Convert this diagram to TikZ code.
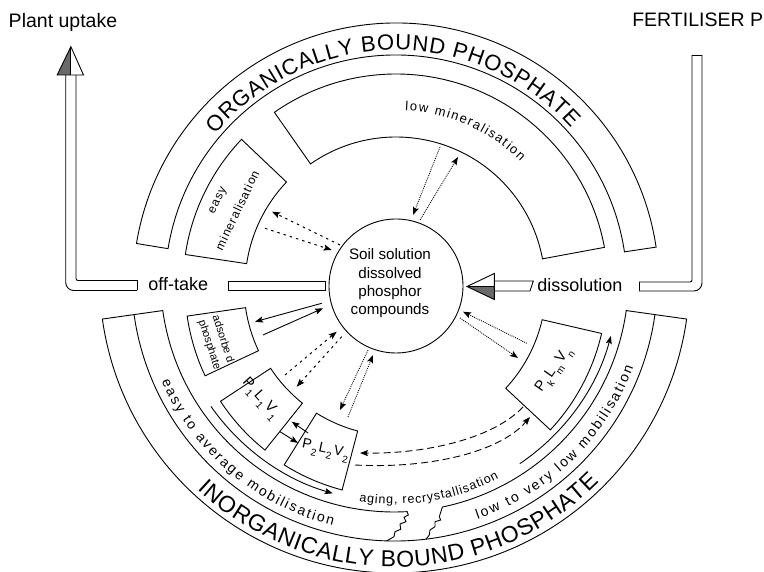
\documentclass[tikz,border=0pt]{standalone}
\usepackage{fontspec}
\setmainfont{Liberation Sans}
\usetikzlibrary{calc,decorations.text,arrows.meta}
\newcommand{\annsector}[5]{%
  \draw ($(#1)+(#4:#3)$) arc[start angle=#4, end angle=#5, radius=#3]
     -- ($(#1)+(#5:#2)$) arc[start angle=#5, end angle=#4, radius=#2] -- cycle;}
\newcommand{\fsz}[1]{\fontsize{#1}{#1}\selectfont}
\newcommand{\sbs}[1]{\kern0.5pt\raisebox{-0.4em}{\fontsize{10}{10}\selectfont #1}\kern1.5pt}
\definecolor{headgray}{RGB}{105,105,105}
\begin{document}
\begin{tikzpicture}[x=1pt,y=1pt,line width=0.9pt,
  tip/.style={-{Stealth[length=8pt,width=6pt,inset=1.5pt]}},
  solidarr/.style={tip, line width=0.9pt},
  loosedots/.style={tip, line width=1pt, dash pattern=on 2.5pt off 4pt},
  finedots/.style={tip, line width=0.9pt, dash pattern=on 0.9pt off 1.1pt},
  longdash/.style={tip, line width=0.9pt, dash pattern=on 7pt off 4pt},
  lbl/.style={inner sep=0pt, font=\fsz{19.5}},
  boxtext/.style={inner sep=0pt, align=center}]
\fill[white] (0,0) rectangle (764,572);
\useasboundingbox (0,0) rectangle (764,572);

\coordinate (C) at (396,286);
\coordinate (Ci) at (394.5,294);

% soil solution
\node[draw, circle, minimum size=134pt, inner sep=0pt] (sol) at (C) {};
\node[inner sep=0pt, align=center, font=\fontsize{15.2}{18.3}\selectfont] (soltext) at (390,288.5)
  {Soil solution\\dissolved\\phosphor\\compounds};

% organic bands
\annsector{C}{231}{263}{8.5}{170.7}
\annsector{C}{151}{213}{136.5}{171.5}
\annsector{C}{149}{212}{10.5}{125}

% inorganic pools
\annsector{C}{152}{211}{188.2}{205.2}
\annsector{C}{150}{210}{213.3}{231.4}
\annsector{C}{150}{211}{238}{255.2}
\annsector{C}{150}{211}{317}{347}

% inorganic bands
\annsector{Ci}{263}{295}{188}{352}
\draw ($(Ci)+(188:263)$) -- ($(Ci)+(188:234)$) arc[start angle=188, end angle=273.1, radius=234]
  -- (408.3,57) -- (404,54.7) -- (406,50.3) -- (400,48) -- (400.7,42.7) -- (395,40.3) -- (394,35.3) -- (386.7,31.1);
\draw (426,32.7) -- (429.3,37) -- (430,42) -- (435,45.3) -- (435,50.3) -- (440.7,52) -- (439.3,55.3)
  -- ($(Ci)+(281.8:234)$) arc[start angle=281.8, end angle=352, radius=234] -- ($(Ci)+(352:263)$);

% mobilisation arrows
\draw[solidarr] ($(Ci)+(215:224)$) arc[start angle=215, end angle=254, radius=224];
\draw[solidarr] ($(Ci)+(304:224)$) arc[start angle=304, end angle=345, radius=224];

% arc texts
\path[decorate, decoration={text along path, text align=fit to path,
  text={|\fsz{22}|ORGANICALLY BOUND PHOSPHATE}}]
  ($(C)+(140:236)$) arc[start angle=140, end angle=42, radius=236];
\path[decorate, decoration={text along path, text align=fit to path,
  text={|\fsz{23}|INORGANICALLY BOUND PHOSPHATE}}]
  ($(Ci)+(227:289)$) arc[start angle=227, end angle=315, radius=289];
\path[decorate, decoration={text along path, text align=fit to path,
  text={|\fsz{14}|easy to average mobilisation}}]
  ($(Ci)+(204:255)$) arc[start angle=204, end angle=256, radius=255];
\path[decorate, decoration={text along path, text align=fit to path,
  text={|\fsz{14}|low to very low mobilisation}}]
  ($(Ci)+(289:255)$) arc[start angle=289, end angle=339.5, radius=255];
\path[decorate, decoration={text along path, text align=fit to path,
  text={|\fsz{12.5}|aging, recrystallisation}}]
  ($(Ci)+(261:226)$) arc[start angle=261, end angle=297.5, radius=226];
\path[decorate, decoration={text along path, text align=fit to path,
  text={|\fsz{13}|low mineralisation}}]
  ($(C)+(87:176)$) arc[start angle=87, end angle=45, radius=176];

% box texts
\node[boxtext, rotate=64.5, font=\fsz{12}\addfontfeature{LetterSpace=8}] (easyt) at ($(C)+(154.3:197)$) {easy};
\node[boxtext, rotate=64.5, font=\fsz{12}\addfontfeature{LetterSpace=8}] (minert) at ($(C)+(154.5:176)$) {mineralisation};
\node[boxtext, align=left, rotate=-72, font=\fontsize{11}{14.5}\selectfont] (adst) at ($(C)+(197.5:188.5)$) {adsorbe d\\phosphate};
\node[boxtext, rotate=-48, font=\fsz{14.5}] (p1t) at ($(C)+(220:177)$) {P\sbs{1}L\sbs{1}V\sbs{1}};
\node[boxtext, rotate=-12, font=\fsz{14}] (p2t) at (326,121) {P\sbs{2}L\sbs{2}V\sbs{2}};
\node[boxtext, rotate=55, font=\fsz{14.5}] (pkt) at (555,202) {P\sbs{k}L\sbs{m}V\sbs{n}};

% arrow end points
\coordinate (e1s) at (340,327);     \coordinate (e1e) at (272,360.3);
\coordinate (e2s) at (265,343.7);   \coordinate (e2e) at (331.7,322);
\coordinate (l1s) at (440,425);     \coordinate (l1e) at (413,357);
\coordinate (l2s) at (420,352);     \coordinate (l2e) at (458,415);
\coordinate (a1s) at (321.7,268.7); \coordinate (a1e) at (255,250.3);
\coordinate (a2s) at (263,237);     \coordinate (a2e) at (323,263.7);
\coordinate (p1as) at (285,197);    \coordinate (p1ae) at (336.7,240.3);
\coordinate (p1bs) at (341.7,235.3);\coordinate (p1be) at (296.7,185.3);
\coordinate (p2as) at (368,222);    \coordinate (p2ae) at (340,162);
\coordinate (p2bs) at (348,155);    \coordinate (p2be) at (373,217);
\coordinate (q1s) at (308,139);     \coordinate (q1e) at (291.7,150.3);
\coordinate (q2s) at (280,140.3);   \coordinate (q2e) at (298,129);
\coordinate (d1s) at (523,165);     \coordinate (d1e) at (360,119);
\coordinate (d2s) at (355,107);     \coordinate (d2e) at (530,155);
\coordinate (k1s) at (526.7,228.7); \coordinate (k1e) at (463,260.3);
\coordinate (k2s) at (460,254);     \coordinate (k2e) at (518,214);

\draw[loosedots] (e1s) -- (e1e);
\draw[loosedots] (e2s) -- (e2e);
\draw[finedots] (l1s) -- (l1e);
\draw[finedots] (l2s) -- (l2e);
\draw[solidarr] (a1s) -- (a1e);
\draw[solidarr] (a2s) -- (a2e);
\draw[loosedots] (p1as) -- (p1ae);
\draw[loosedots] (p1bs) -- (p1be);
\draw[finedots] (p2as) -- (p2ae);
\draw[finedots] (p2bs) -- (p2be);
\draw[solidarr] (q1s) -- (q1e);
\draw[solidarr] (q2s) -- (q2e);
\draw[longdash] (d1s) .. controls (495,135) and (430,118) .. (d1e);
\draw[longdash] (d2s) .. controls (430,103) and (500,120) .. (d2e);
\draw[finedots] (k1s) -- (k1e);
\draw[finedots] (k2s) -- (k2e);

% plant uptake pipe
\draw[rounded corners=8pt] (65.7,497) |- (137,281.5);
\draw[rounded corners=2pt] (76,497) |- (137,291.5);
\draw (137,281.5) -- (137,291.5);
\fill[white] (57.2,497) -- (70.85,525.3) -- (83.5,497) -- cycle;
\fill[headgray] (57.2,497) -- (70.85,525.3) -- (70.85,497) -- cycle;
\draw[line join=miter] (57.2,497) -- (70.85,525.3) -- (83.5,497) -- cycle;
\draw (70.85,525.3) -- (70.85,497);
\draw (228,281.5) rectangle (325,290.5);

% fertiliser pipe
\draw (692,517) -- (702,517);
\draw[rounded corners=8pt] (702,517) |- (639,281);
\draw[rounded corners=2pt] (692,517) |- (639,290);
\draw (639,281) -- (639,290);

% dissolution arrow
\draw (494.3,291) -- (533.3,291) -- (530,281) -- (494.3,281);
\fill[white] (467,285.5) -- (494.3,298.5) -- (494.3,272.5) -- cycle;
\fill[headgray] (467,285.5) -- (494.3,285.5) -- (494.3,272.5) -- cycle;
\draw[line join=miter] (467,285.5) -- (494.3,298.5) -- (494.3,272.5) -- cycle;
\draw (467,285.5) -- (494.3,285.5);

% labels
\node[lbl, anchor=base west] (plant) at (8.3,544) {Plant uptake};
\node[lbl, anchor=base east] (fert) at (763.5,545) {FERTILISER P};
\node[lbl, anchor=base west, font=\fsz{18}] (offt) at (148,281) {off-take};
\node[lbl, anchor=base west, font=\fsz{18}] (diss) at (537,280) {dissolution};
\end{tikzpicture}
\end{document}
